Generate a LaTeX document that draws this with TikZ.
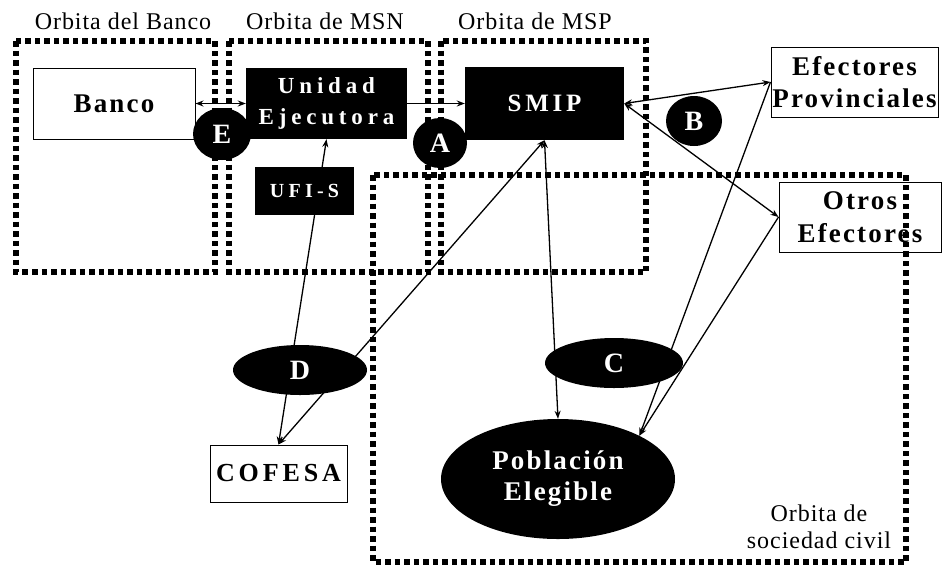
\documentclass[tikz,border=0pt]{standalone}
\usepackage{fontspec}
\setmainfont{Liberation Serif}
\newfontfamily\lspaced[LetterSpace=4]{Liberation Serif}
\newfontfamily\bspaced[LetterSpace=8]{Liberation Serif}
\newfontfamily\mspaced[LetterSpace=15]{Liberation Serif}
\newfontfamily\wspaced[LetterSpace=21]{Liberation Serif}
\usetikzlibrary{arrows.meta,shapes.geometric}
\tikzset{
  orbit/.style={line width=5.5pt, dash pattern=on 5.5pt off 4pt},
  lbl/.style={inner sep=0pt, font=\lspaced\fontsize{24}{27}\selectfont, align=center},
  whitebox/.style={rectangle, draw=black, line width=1pt, fill=white, inner sep=0pt,
    align=center, font=\bspaced\bfseries\fontsize{27}{32}\selectfont},
  blackbox/.style={rectangle, fill=black, text=white, inner sep=0pt,
    align=center, font=\wspaced\bfseries\fontsize{23}{31}\selectfont},
  badge/.style={ellipse, fill=black, text=white, inner sep=0pt,
    align=center, font=\bfseries\fontsize{28}{31}\selectfont},
  conn/.style={line width=1.3pt}
}
\begin{document}
\begin{tikzpicture}[x=1pt,y=-1pt,>={Stealth[length=8pt,width=6pt]}]
\useasboundingbox (0,0) rectangle (943,566);
\fill[white] (0,0) rectangle (943,566);
% orbits
\draw[orbit] (16,41) rectangle (215,272);
\draw[orbit] (229,41) rectangle (428,272);
\draw[orbit] (441,41) rectangle (646,272);
% orbit labels
\node[lbl] (l1) at (123,21) {Orbita del Banco};
\node[lbl] (l2) at (325,21) {Orbita de MSN};
\node[lbl] (l3) at (535,21) {Orbita de MSP};
% main nodes
\node[whitebox, minimum width=162pt, minimum height=71pt] (banco) at (114,103.5) {Banco};
\node[blackbox, minimum width=161pt, minimum height=71pt] (ue) at (326.5,103.5) {Unidad\\Ejecutora};
\node[blackbox, minimum width=159pt, minimum height=73pt, font=\mspaced\bfseries\fontsize{25}{30}\selectfont] (smip) at (544.5,103.5) {SMIP};
\node[whitebox, minimum width=167pt, minimum height=70pt, font=\bspaced\bfseries\fontsize{27}{32}\selectfont] (efp) at (854.5,82) {Efectores\\Provinciales};
\node[whitebox, minimum width=162pt, minimum height=70pt, font=\bspaced\bfseries\fontsize{27}{33}\selectfont] (otros) at (860,217) {Otros\\Efectores};
\node[whitebox, minimum width=137pt, minimum height=57pt, font=\mspaced\bfseries\fontsize{26}{32}\selectfont] (cofesa) at (278.5,473.5) {COFESA};
\node[badge, minimum width=234pt, minimum height=120pt, font=\bspaced\bfseries\fontsize{27}{31}\selectfont] (pob) at (558,479) {Población\\Elegible};
% connectors
\draw[conn, <->] (banco.east) -- (ue.west);
\draw[conn, ->] (ue.east) -- (smip.west);
\draw[conn, <->] (ue.south) -- (cofesa.north);
\draw[conn, <->] (smip.south) -- (cofesa.north);
\draw[conn, <->] (smip.south) -- (pob.north);
\draw[conn, <->] (smip.east) -- (efp.west);
\draw[conn, <->] (smip.east) -- (otros.west);
\draw[conn, ->] (efp.west) -- (pob.28);
\draw[conn, ->] (otros.west) -- (pob.28);
% society orbit
\draw[orbit] (373,175) rectangle (906,562);
\node[lbl] (l4) at (819,527) {Orbita de\\sociedad civil};
% overlay nodes
\node[blackbox, minimum width=99pt, minimum height=48pt, font=\wspaced\bfseries\fontsize{20}{24}\selectfont] (ufis) at (304.5,191) {UFI-S};
\node[badge, minimum width=134pt, minimum height=50pt] (d) at (300,370) {D};
\node[badge, minimum width=138pt, minimum height=50pt] (c) at (614,363) {C};
\node[badge, minimum width=58pt, minimum height=52pt] (e) at (222,134) {E};
\node[badge, minimum width=54pt, minimum height=50pt] (a) at (440,143) {A};
\node[badge, minimum width=56pt, minimum height=50pt] (b) at (694,121) {B};
\end{tikzpicture}
\end{document}
